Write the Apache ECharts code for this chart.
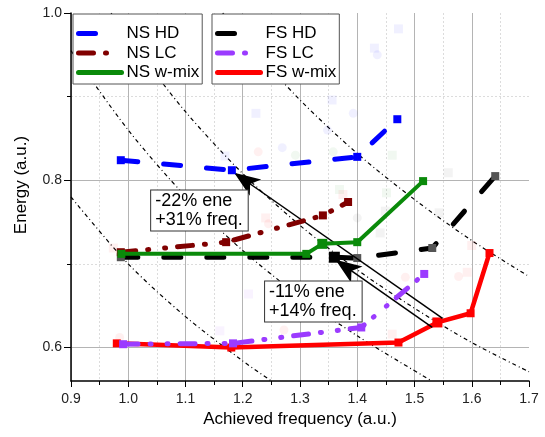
<head>
  <meta charset="UTF-8">
  <title>Energy vs frequency</title>
  <script src="https://cdn.jsdelivr.net/npm/echarts@6/dist/echarts.min.js" type="text/javascript"></script>
</head>

<body style="margin:0;background:#fff;">
  <div id="chart" style="width: 545px;height:437px;"></div>
  <script type="text/javascript">
    // values: achieved frequency / energy (a.u.)
    const nsHdFreq = [0.987, 1.181, 1.400, 1.470];
    const nsHdEnergy = [0.824, 0.812, 0.828, 0.873];
    const nsLcFreq = [0.987, 1.171, 1.340, 1.384];
    const nsLcEnergy = [0.714, 0.726, 0.758, 0.774];
    const nsMixFreq = [0.988, 1.311, 1.339, 1.400, 1.515];
    const nsMixEnergy = [0.712, 0.712, 0.724, 0.726, 0.799];
    const fsHdFreq = [0.987, 1.360, 1.400, 1.531, 1.641];
    const fsHdEnergy = [0.708, 0.708, 0.707, 0.719, 0.805];
    const fsLcFreq = [0.991, 1.183, 1.407, 1.517];
    const fsLcEnergy = [0.604, 0.605, 0.624, 0.688];
    const fsMixFreq = [0.980, 1.180, 1.472, 1.540, 1.598, 1.631];
    const fsMixEnergy = [0.605, 0.600, 0.606, 0.630, 0.641, 0.713];

    // dotted iso curves (read at a few points each)
    const isoAFreq = [0.90, 1.00, 1.10, 1.20, 1.25];
    const isoAEnergy = [0.780, 0.700, 0.637, 0.584, 0.560];
    const isoBFreq = [0.90, 1.00, 1.10, 1.20, 1.30, 1.40, 1.53];
    const isoBEnergy = [0.955, 0.860, 0.781, 0.716, 0.661, 0.614, 0.560];
    const isoCFreq = [0.97, 1.00, 1.10, 1.20, 1.30, 1.40, 1.50, 1.60, 1.70];
    const isoCEnergy = [1.000, 0.970, 0.882, 0.808, 0.746, 0.693, 0.647, 0.606, 0.571];
    const isoDFreq = [1.165, 1.20, 1.30, 1.40, 1.50, 1.60, 1.70];
    const isoDEnergy = [1.000, 0.971, 0.896, 0.832, 0.777, 0.728, 0.685];

    // faint background points
    const fadedBlue = [[1.472, 0.981], [1.430, 0.958], [1.223, 0.880], [1.356, 0.896], [1.169, 0.829]];
    const fadedBlueRound = [[1.435, 0.950], [1.393, 0.880], [1.269, 0.839], [1.348, 0.860]];
    const fadedRed = [[1.240, 0.755], [1.375, 0.783], [1.600, 0.722], [1.592, 0.690], [1.461, 0.616], [0.974, 0.719]];
    const fadedRedRound = [[1.227, 0.834], [1.245, 0.748], [1.484, 0.684], [1.577, 0.685], [1.272, 0.621], [0.985, 0.612]];
    const fadedGreen = [[1.461, 0.830], [1.369, 0.789], [1.451, 0.785]];
    const fadedGreenRound = [[1.292, 0.830], [1.358, 0.834]];
    const fadedGray = [[1.449, 0.763], [1.440, 0.737], [1.543, 0.761], [1.559, 0.809]];
    const fadedGrayRound = [[1.400, 0.755]];
    const fadedPurple = [[1.210, 0.664], [1.160, 0.620]];

    const xTickValues = [0.9, 1.0, 1.1, 1.2, 1.3, 1.4, 1.5, 1.6, 1.7];
    const yMajorValues = [0.6, 0.8, 1.0];
    const yMinorValues = [0.7, 0.9];

    // arrows (tail -> head) and their captions
    const arrowTails = [[1.549, 0.635], [1.531, 0.624]];
    const arrowHeads = [[1.185, 0.809], [1.362, 0.705]];
    const noteTexts = ['-22% ene\n+31% freq.', '-11% ene\n+14% freq.'];
    const notePoints = [[1.040, 0.764], [1.239, 0.655]];

    const zip = (xs, ys) => xs.map((x, i) => [x, ys[i]]);
    const font = "'Liberation Sans', Arial, sans-serif";

    const chart = echarts.init(document.getElementById('chart'));

    function dataSeries(name, xs, ys, color, width, dash, z) {
      return {
        name: name,
        type: 'line',
        data: zip(xs, ys),
        symbol: 'rect',
        symbolSize: 8,
        showSymbol: true,
        z: z,
        lineStyle: { color: color, width: width, type: dash, cap: 'round' },
        itemStyle: { color: color },
        emphasis: { disabled: true }
      };
    }

    function isoSeries(xs, ys) {
      return {
        type: 'line',
        data: zip(xs, ys),
        symbol: 'none',
        smooth: 0.3,
        silent: true,
        z: 1,
        lineStyle: { color: '#000', width: 1.2, type: [4, 3, 1, 3] }
      };
    }

    function fadedSeries(points, color, symbol) {
      return {
        type: 'scatter',
        data: points,
        symbol: symbol,
        symbolSize: 9,
        silent: true,
        z: 1,
        itemStyle: { color: color, opacity: 0.06 }
      };
    }

    const dashLong = [17, 26];
    const dashDotDot = [15, 12, 1, 16, 1, 12];

    const fsHd = dataSeries('FS HD', fsHdFreq, fsHdEnergy, '#000', 5, dashLong, 4);
    fsHd.itemStyle.color = '#555';
    fsHd.data[1] = { value: fsHd.data[1], symbolSize: 11, itemStyle: { color: '#000' } };

    const nsMix = dataSeries('NS w-mix', nsMixFreq, nsMixEnergy, '#0a8a0a', 4, 'solid', 5);
    nsMix.data[2] = { value: nsMix.data[2], symbolSize: 10 };
    const fsMix = dataSeries('FS w-mix', fsMixFreq, fsMixEnergy, '#ff0000', 4.5, 'solid', 4);
    fsMix.data[3] = { value: fsMix.data[3], symbolSize: 10 };

    const legendBase = {
      orient: 'vertical',
      top: 14,
      itemWidth: 43,
      itemHeight: 14,
      itemGap: 2.5,
      itemTextGap: 13,
      padding: [11, 3, 3, 3],
      borderColor: '#555',
      borderWidth: 1,
      backgroundColor: '#fff',
      textStyle: { fontFamily: font, fontSize: 17, color: '#000' },
      itemStyle: { opacity: 0 },
      lineStyle: { width: 5 },
      selectedMode: false,
      z: 10
    };

    const option = {
      animation: false,
      backgroundColor: '#fff',
      grid: { left: 71, right: 16, top: 13, bottom: 56 },
      legend: [
        Object.assign({}, legendBase, { left: 73, data: ['NS HD', 'NS LC', 'NS w-mix'] }),
        Object.assign({}, legendBase, { left: 212, data: ['FS HD', 'FS LC', 'FS w-mix'] })
      ],
      xAxis: {
        type: 'value',
        min: 0.9,
        max: 1.7,
        interval: 0.1,
        name: 'Achieved frequency (a.u.)',
        nameLocation: 'middle',
        nameGap: 27,
        nameTextStyle: { fontFamily: font, fontSize: 17, color: '#000' },
        axisLine: { lineStyle: { color: '#000', width: 1.5 } },
        axisTick: { length: 6, customValues: xTickValues, lineStyle: { color: '#000' } },
        minorTick: { show: true, splitNumber: 2, length: 4, lineStyle: { color: '#000' } },
        axisLabel: { fontFamily: font, fontSize: 14, color: '#222', margin: 11,
          customValues: xTickValues, formatter: v => v.toFixed(1) },
        splitLine: { show: true, showMaxLine: false, lineStyle: { color: '#b4b4b4', width: 1 } },
        minorSplitLine: { show: true, lineStyle: { color: '#dcdcdc', type: [2, 2] } }
      },
      yAxis: [
        {
          type: 'value',
          min: 0.56,
          max: 1.0,
          name: 'Energy (a.u.)',
          nameLocation: 'middle',
          nameGap: 41,
          nameTextStyle: { fontFamily: font, fontSize: 17, color: '#000', padding: [0, 0, 0, 24] },
          axisLine: { lineStyle: { color: '#000', width: 1.5 } },
          axisTick: { length: 7, customValues: yMajorValues, lineStyle: { color: '#000' } },
          axisLabel: { fontFamily: font, fontSize: 14, color: '#222', margin: 9,
            customValues: yMajorValues, formatter: v => v.toFixed(1) },
          splitLine: { show: true, showMaxLine: false, lineStyle: { color: '#b4b4b4', width: 1 } }
        },
        {
          type: 'value',
          min: 0.56,
          max: 1.0,
          position: 'left',
          axisLine: { show: false },
          axisTick: { show: true, length: 4, customValues: yMinorValues, lineStyle: { color: '#000' } },
          axisLabel: { show: false, customValues: yMinorValues },
          splitLine: { show: true, lineStyle: { color: '#dcdcdc', type: [2, 2] } }
        }
      ],
      series: [
        isoSeries(isoAFreq, isoAEnergy),
        isoSeries(isoBFreq, isoBEnergy),
        isoSeries(isoCFreq, isoCEnergy),
        isoSeries(isoDFreq, isoDEnergy),
        fadedSeries(fadedBlue, '#0000ff', 'rect'),
        fadedSeries(fadedBlueRound, '#0000ff', 'circle'),
        fadedSeries(fadedRed, '#ff0000', 'rect'),
        fadedSeries(fadedRedRound, '#ff0000', 'circle'),
        fadedSeries(fadedGreen, '#0a8a0a', 'rect'),
        fadedSeries(fadedGreenRound, '#0a8a0a', 'circle'),
        fadedSeries(fadedGray, '#333', 'rect'),
        fadedSeries(fadedGrayRound, '#333', 'circle'),
        fadedSeries(fadedPurple, '#9b3bff', 'rect'),
        dataSeries('NS HD', nsHdFreq, nsHdEnergy, '#0000ff', 5, dashLong, 5),
        dataSeries('NS LC', nsLcFreq, nsLcEnergy, '#800000', 5, dashDotDot, 5),
        nsMix,
        fsHd,
        fsMix,
        dataSeries('FS LC', fsLcFreq, fsLcEnergy, '#9b3bff', 5, dashDotDot, 5),
        {
          type: 'line',
          data: [],
          z: 8,
          markLine: {
            silent: true,
            symbol: ['none', 'arrow'],
            symbolSize: [0, 18],
            label: { show: false },
            lineStyle: { color: '#000', width: 1.5, type: 'solid' },
            data: arrowTails.map((t, i) => [
              { coord: t },
              { coord: arrowHeads[i], symbolSize: [15, 26] }
            ])
          },
          markPoint: {
            silent: true,
            symbol: 'rect',
            symbolSize: 0,
            label: {
              show: true,
              position: 'right',
              distance: 0,
              formatter: '{b}',
              align: 'left',
              fontFamily: font,
              fontSize: 18,
              lineHeight: 19,
              color: '#000',
              backgroundColor: '#fff',
              borderColor: '#333',
              borderWidth: 1,
              padding: [1, 5, 1, 4]
            },
            data: notePoints.map((p, i) => ({ coord: p, name: noteTexts[i] }))
          }
        }
      ]
    };
    chart.setOption(option);
  </script>
</body>
